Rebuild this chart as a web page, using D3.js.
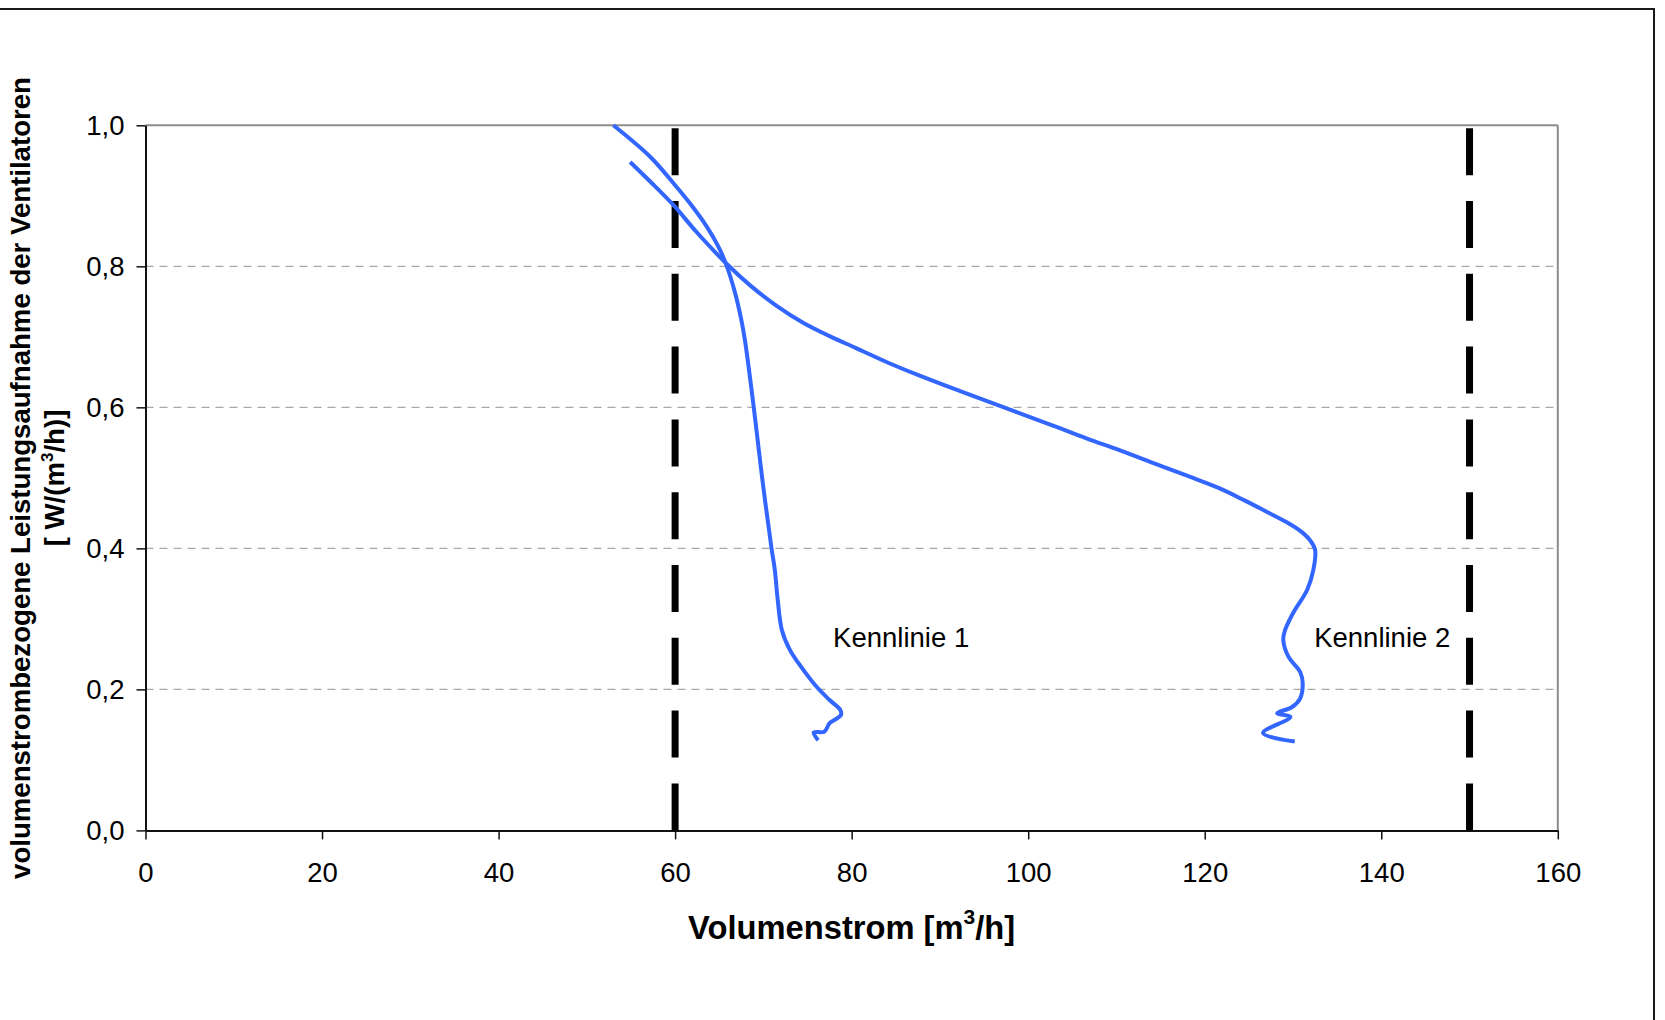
<!DOCTYPE html>
<html>
<head>
<meta charset="utf-8">
<script src="https://cdn.jsdelivr.net/npm/d3@7"></script>
<style>
  html, body { margin: 0; padding: 0; background: #fff; }
  svg { display: block; font-family: "Liberation Sans", Arial, sans-serif; }
</style>
</head>
<body>
<svg id="chart" width="1665" height="1020"></svg>
<script>
// ---- data ----
const xTicks = [0, 20, 40, 60, 80, 100, 120, 140, 160];
const yTicks = [0, 0.2, 0.4, 0.6, 0.8, 1.0];
const gridY = [0.2, 0.4, 0.6, 0.8];
const refLinesX = [60, 150];

const kennlinie1X = [53.0, 57.2, 60.0, 61.7, 63.6, 64.9, 65.8, 66.8, 67.5, 67.9, 68.9, 69.8, 70.9, 71.3, 71.6, 72.1, 73.0, 74.1, 76.0, 77.5, 78.7, 78.8, 78.1, 77.5, 76.9, 75.7, 76.2];
const kennlinie1Y = [1.0, 0.955, 0.915, 0.889, 0.856, 0.828, 0.802, 0.762, 0.724, 0.696, 0.601, 0.506, 0.402, 0.369, 0.330, 0.284, 0.256, 0.235, 0.204, 0.185, 0.171, 0.164, 0.157, 0.152, 0.140, 0.139, 0.128];

const kennlinie2X = [54.9, 57.2, 59.8, 62.4, 65.8, 68.5, 71.5, 74.5, 77.5, 80.5, 84.0, 87.7, 92.3, 96.8, 102.8, 106.6, 110.4, 114.2, 118.0, 121.7, 124.5, 127.0, 129.3, 130.9, 131.9, 132.5, 132.3, 131.6, 130.0, 129.1, 128.9, 129.5, 130.8, 131.1, 130.8, 129.9, 128.2, 129.7, 126.6, 130.2];
const kennlinie2Y = [0.948, 0.920, 0.887, 0.849, 0.804, 0.773, 0.744, 0.720, 0.701, 0.684, 0.664, 0.645, 0.623, 0.602, 0.574, 0.556, 0.539, 0.521, 0.503, 0.485, 0.468, 0.452, 0.437, 0.424, 0.412, 0.398, 0.369, 0.341, 0.308, 0.284, 0.270, 0.246, 0.225, 0.209, 0.187, 0.175, 0.166, 0.161, 0.138, 0.126];

const curveLabels = ["Kennlinie 1", "Kennlinie 2"];
const curveLabelX = [77.9, 132.4];
const curveLabelY = [0.26, 0.26];

// ---- layout ----
const svg = d3.select("#chart");
const L = 145.5, R = 1557.8, T = 125.3, B = 830.4;
const x = d3.scaleLinear().domain([0, 160]).range([L, R]);
const y = d3.scaleLinear().domain([0, 1]).range([B, T]);
const blue = "#3366ff";
const fmt = d3.formatLocale({decimal: ",", thousands: ".", grouping: [3], currency: ["", "€"]}).format(".1f");

// outer frame
svg.append("rect").attr("x", -3).attr("y", 9).attr("width", 1657).attr("height", 1020)
  .attr("fill", "none").attr("stroke", "#1a1a1a").attr("stroke-width", 2);

// gridlines
svg.append("g").selectAll("line").data(gridY).join("line")
  .attr("x1", L).attr("x2", R).attr("y1", d => y(d)).attr("y2", d => y(d))
  .attr("stroke", "#a8a8a8").attr("stroke-width", 1.2).attr("stroke-dasharray", "8,6");

// top and right border (gray)
svg.append("line").attr("x1", L).attr("x2", R).attr("y1", y(1)).attr("y2", y(1))
  .attr("stroke", "#8c8c8c").attr("stroke-width", 2);
svg.append("line").attr("x1", R).attr("x2", R).attr("y1", y(1)).attr("y2", y(0))
  .attr("stroke", "#8c8c8c").attr("stroke-width", 2);

// axes
const xAxis = d3.axisBottom(x).tickValues(xTicks).tickSize(9).tickPadding(23).tickSizeOuter(0).tickFormat(d3.format("d"));
const gx = svg.append("g").attr("transform", `translate(0,${B})`).call(xAxis);
gx.select(".domain").attr("stroke", "#111").attr("stroke-width", 2);
gx.selectAll(".tick line").attr("stroke", "#111").attr("stroke-width", 1.5);
gx.selectAll(".tick text").attr("font-size", 27.5).attr("fill", "#000")
  .attr("font-family", "Liberation Sans, Arial, sans-serif").attr("dy", "0.71em");

const yAxis = d3.axisLeft(y).tickValues(yTicks).tickSize(9).tickPadding(12).tickSizeOuter(0).tickFormat(fmt);
const gy = svg.append("g").attr("transform", `translate(${L},0)`).call(yAxis);
gy.select(".domain").attr("stroke", "#111").attr("stroke-width", 2);
gy.selectAll(".tick line").attr("stroke", "#111").attr("stroke-width", 1.5);
gy.selectAll(".tick text").attr("font-size", 27.5).attr("fill", "#000")
  .attr("font-family", "Liberation Sans, Arial, sans-serif");

// reference dashed lines
svg.append("g").selectAll("line").data(refLinesX).join("line")
  .attr("x1", d => x(d)).attr("x2", d => x(d)).attr("y1", y(0)).attr("y2", y(1))
  .attr("stroke", "#000").attr("stroke-width", 7).attr("stroke-dasharray", "47,25.8");

// curves
const line = d3.line().x(d => x(d[0])).y(d => y(d[1])).curve(d3.curveCatmullRom.alpha(0.5));
const k1 = kennlinie1X.map((v, i) => [v, kennlinie1Y[i]]);
const k2 = kennlinie2X.map((v, i) => [v, kennlinie2Y[i]]);
[k1, k2].forEach(pts => {
  svg.append("path").datum(pts).attr("d", line)
    .attr("fill", "none").attr("stroke", blue).attr("stroke-width", 4)
    .attr("stroke-linejoin", "round").attr("stroke-linecap", "butt");
});

// curve labels
svg.append("g").selectAll("text").data(curveLabels).join("text")
  .attr("x", (d, i) => x(curveLabelX[i])).attr("y", (d, i) => y(curveLabelY[i]))
  .attr("font-size", 27.5).attr("fill", "#000").text(d => d);

// x axis title
const xt = svg.append("text").attr("x", (L + R) / 2).attr("y", 939)
  .attr("text-anchor", "middle").attr("font-size", 32.7).attr("font-weight", "bold").attr("fill", "#000");
xt.append("tspan").text("Volumenstrom [m");
xt.append("tspan").attr("font-size", 21).attr("dy", -15).text("3");
xt.append("tspan").attr("dy", 15).text("/h]");

// y axis title (two lines)
const yt = svg.append("g").attr("transform", "translate(30,478) rotate(-90)");
yt.append("text").attr("text-anchor", "middle").attr("font-size", 27.6).attr("font-weight", "bold")
  .attr("fill", "#000").text("volumenstrombezogene Leistungsaufnahme der Ventilatoren");
const yt2 = yt.append("text").attr("y", 34).attr("text-anchor", "middle").attr("font-size", 27.6)
  .attr("font-weight", "bold").attr("fill", "#000");
yt2.append("tspan").text("[ W/(m");
yt2.append("tspan").attr("font-size", 17).attr("dy", -11).text("3");
yt2.append("tspan").attr("dy", 11).text("/h)]");
</script>
</body>
</html>
